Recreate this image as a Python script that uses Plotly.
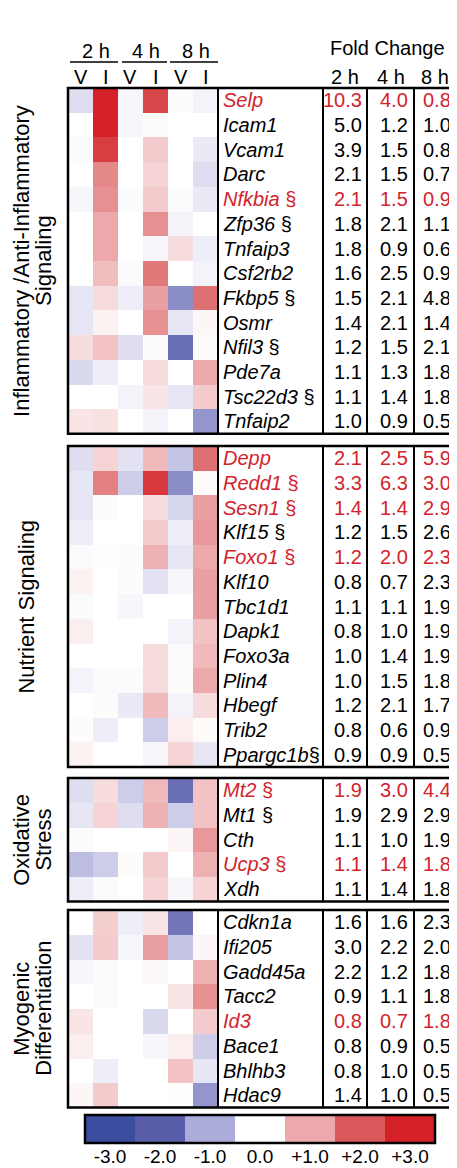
import plotly.graph_objects as go

# The page body has an 8 px margin, so the figure is drawn 8 px in from the
# window's top-left corner; the layout below is expressed in window pixels.
OFF = 8
W, H = 457 - OFF, 1168 - OFF

# ---------------- data ----------------
conditions = ["2h V", "2h I", "4h V", "4h I", "8h V", "8h I"]
time_labels = ["2 h", "4 h", "8 h"]
vi_labels = ["V", "I", "V", "I", "V", "I"]
panel_titles = [["Inflammatory /Anti-Inflammatory", "Signaling"],
                ["Nutrient Signaling"],
                ["Oxidative", "Stress"],
                ["Myogenic", "Differentiation"]]

genes1 = ["Selp", "Icam1", "Vcam1", "Darc", "Nfkbia §", "Zfp36 §", "Tnfaip3", "Csf2rb2",
          "Fkbp5 §", "Osmr", "Nfil3 §", "Pde7a", "Tsc22d3 §", "Tnfaip2"]
red1 = [1, 0, 0, 0, 1, 0, 0, 0, 0, 0, 0, 0, 0, 0]
fc1_2h = [10.3, 5.0, 3.9, 2.1, 2.1, 1.8, 1.8, 1.6, 1.5, 1.4, 1.2, 1.1, 1.1, 1.0]
fc1_4h = [4.0, 1.2, 1.5, 1.5, 1.5, 2.1, 0.9, 2.5, 2.1, 2.1, 1.5, 1.3, 1.4, 0.9]
fc1_8h = [0.8, 1.0, 0.8, 0.7, 0.9, 1.1, 0.6, 0.9, 4.8, 1.4, 2.1, 1.8, 1.8, 0.5]
heat1 = [
    [-0.4, 3.0, -0.1, 2.3, 0.05, -0.15],
    [0.0, 3.0, -0.1, 0.05, 0.0, 0.0],
    [-0.05, 2.5, 0.0, 0.6, 0.0, -0.25],
    [0.0, 1.4, 0.0, 0.5, 0.0, -0.4],
    [-0.1, 1.3, -0.05, 0.6, -0.05, -0.25],
    [0.0, 1.0, 0.0, 1.3, -0.15, 0.0],
    [0.0, 1.0, 0.0, -0.1, 0.4, -0.2],
    [0.0, 0.75, -0.05, 1.6, 0.0, -0.15],
    [-0.3, 0.4, -0.2, 1.1, -1.4, 1.7],
    [-0.3, 0.15, 0.0, 1.3, -0.3, 0.1],
    [0.4, 0.7, -0.4, 0.05, -1.8, -0.05],
    [-0.45, -0.2, 0.0, 0.4, 0.0, 1.0],
    [0.0, 0.0, -0.15, 0.3, -0.3, 0.6],
    [0.3, 0.35, 0.0, -0.15, 0.0, -1.3],
]

genes2 = ["Depp", "Redd1 §", "Sesn1 §", "Klf15 §", "Foxo1 §", "Klf10", "Tbc1d1", "Dapk1",
          "Foxo3a", "Plin4", "Hbegf", "Trib2", "Ppargc1b§"]
red2 = [1, 1, 1, 0, 1, 0, 0, 0, 0, 0, 0, 0, 0]
fc2_2h = [2.1, 3.3, 1.4, 1.2, 1.2, 0.8, 1.1, 0.8, 1.0, 1.0, 1.2, 0.8, 0.9]
fc2_4h = [2.5, 6.3, 1.4, 1.5, 2.0, 0.7, 1.1, 1.0, 1.4, 1.5, 2.1, 0.6, 0.9]
fc2_8h = [5.9, 3.0, 2.9, 2.6, 2.3, 2.3, 1.9, 1.9, 1.9, 1.8, 1.7, 0.9, 0.5]
heat2 = [
    [-0.4, 0.5, -0.35, 0.8, -0.7, 1.7],
    [-0.3, 1.5, -0.6, 2.6, -1.4, 0.05],
    [-0.3, 0.05, 0.0, 0.4, -0.5, 1.1],
    [-0.2, 0.0, 0.0, 0.6, -0.2, 1.2],
    [-0.05, 0.03, -0.05, 0.9, -0.3, 1.0],
    [0.15, 0.0, 0.05, -0.35, -0.1, 1.1],
    [-0.05, 0.0, -0.1, 0.0, 0.0, 1.1],
    [0.2, 0.0, 0.0, 0.0, -0.15, 0.7],
    [0.0, 0.0, 0.0, 0.4, -0.05, 0.8],
    [-0.15, -0.05, -0.05, 0.4, 0.05, 1.0],
    [0.0, 0.05, -0.25, 0.8, -0.15, 0.4],
    [0.05, -0.2, 0.0, -0.6, 0.2, 0.05],
    [0.15, 0.0, 0.0, -0.1, 0.5, -0.3],
]

genes3 = ["Mt2 §", "Mt1 §", "Cth", "Ucp3 §", "Xdh"]
red3 = [1, 0, 0, 1, 0]
fc3_2h = [1.9, 1.9, 1.1, 1.1, 1.1]
fc3_4h = [3.0, 2.9, 1.0, 1.4, 1.4]
fc3_8h = [4.4, 2.9, 1.9, 1.8, 1.8]
heat3 = [
    [-0.4, 0.4, -0.6, 0.8, -1.8, 0.7],
    [-0.3, 0.5, -0.4, 0.9, -0.6, 0.7],
    [-0.05, 0.0, 0.0, 0.0, 0.1, 1.2],
    [-0.8, -0.6, 0.05, 0.6, 0.0, 0.9],
    [-0.2, -0.05, 0.0, 0.5, -0.1, 0.5],
]

genes4 = ["Cdkn1a", "Ifi205", "Gadd45a", "Tacc2", "Id3", "Bace1", "Bhlhb3", "Hdac9"]
red4 = [0, 0, 0, 0, 1, 0, 0, 0]
fc4_2h = [1.6, 3.0, 2.2, 0.9, 0.8, 0.8, 0.8, 1.4]
fc4_4h = [1.6, 2.2, 1.2, 1.1, 0.7, 0.9, 1.0, 1.0]
fc4_8h = [2.3, 2.0, 1.8, 1.8, 1.8, 0.5, 0.5, 0.5]
heat4 = [
    [0.0, 0.55, -0.2, 0.3, -1.7, 0.0],
    [-0.35, 0.6, -0.1, 1.1, -0.7, 0.1],
    [-0.1, -0.05, 0.0, 0.08, 0.0, 0.9],
    [0.0, -0.05, 0.0, 0.0, 0.3, 1.3],
    [0.3, 0.0, 0.0, -0.45, 0.0, 0.6],
    [0.2, 0.0, 0.0, -0.1, 0.2, -0.6],
    [0.0, -0.2, 0.0, 0.0, 0.7, -0.3],
    [0.1, 0.6, 0.0, 0.0, -0.03, -1.3],
]

scale_values = [-3, -2, -1, 0, 1, 2, 3]
scale_labels = ["-3.0", "-2.0", "-1.0", "0.0", "+1.0", "+2.0", "+3.0"]

panels = [
    (genes1, red1, fc1_2h, fc1_4h, fc1_8h, heat1),
    (genes2, red2, fc2_2h, fc2_4h, fc2_8h, heat2),
    (genes3, red3, fc3_2h, fc3_4h, fc3_8h, heat3),
    (genes4, red4, fc4_2h, fc4_4h, fc4_8h, heat4),
]

# ---------------- styling / layout ----------------
colorscale = [
    [0.0, "rgb(60,78,160)"],
    [1 / 6, "rgb(90,94,170)"],
    [2 / 6, "rgb(172,172,218)"],
    [3 / 6, "rgb(255,255,255)"],
    [4 / 6, "rgb(236,168,170)"],
    [5 / 6, "rgb(218,88,90)"],
    [1.0, "rgb(212,34,40)"],
]
RED = "#d2232d"
FONT = "Liberation Sans, Arial, Helvetica, sans-serif"
ROW_H = 24.7
panel_tops = [88, 446, 778, 910]
X_HEAT0, X_HEAT1 = 68, 218
X_RIGHT = 455
V_LINES = [218, 323, 367, 414]
NUM_X = [364, 410, 453]


def px(x):
    return (x - OFF) / W


def py(y):
    return 1 - (y - OFF) / H


def label(x, y, text, size=20, color="black", **kw):
    d = dict(x=px(x), y=py(y), xref="paper", yref="paper", text=text, showarrow=False,
             xanchor="center", yanchor="middle",
             font=dict(size=size, color=color, family=FONT))
    d.update(kw)
    return d


fig = go.Figure()
annotations = []
shapes = []
layout_axes = {}

for k, (genes, reds, f2, f4, f8, heat) in enumerate(panels, start=1):
    n = len(genes)
    top = panel_tops[k - 1]
    bot = top + n * ROW_H
    xa, ya = ("x" if k == 1 else f"x{k}"), ("y" if k == 1 else f"y{k}")
    fig.add_trace(go.Heatmap(
        z=heat, x=list(range(6)), y=list(range(n)),
        colorscale=colorscale, zmin=-3, zmax=3, showscale=False,
        xaxis=xa, yaxis=ya, hoverinfo="skip",
    ))
    layout_axes["xaxis" if k == 1 else f"xaxis{k}"] = dict(
        domain=[px(X_HEAT0), px(X_HEAT1)], range=[-0.5, 5.5], visible=False,
        anchor=ya, fixedrange=True)
    layout_axes["yaxis" if k == 1 else f"yaxis{k}"] = dict(
        domain=[py(bot), py(top)], range=[n - 0.5, -0.5], visible=False,
        anchor=xa, fixedrange=True)

    for i, g in enumerate(genes):
        col = RED if reds[i] else "black"
        if "§" in g:
            name = g.replace("§", "").rstrip()
            sep = " " if g.endswith(" §") else ""
            txt = f"<i>{name}</i>{sep}§"
        else:
            txt = f"<i>{g}</i>"
        annotations.append(dict(
            x=px(221), y=i, xref="paper", yref=ya, text=txt, showarrow=False,
            xanchor="left", yanchor="middle", font=dict(size=20, color=col, family=FONT)))
        for j, vals in enumerate([f2, f4, f8]):
            annotations.append(dict(
                x=px(NUM_X[j]), y=i, xref="paper", yref=ya, text=f"{vals[i]:.1f}",
                showarrow=False, xanchor="right", yanchor="middle",
                font=dict(size=20, color=col, family=FONT)))

    # borders
    shapes.append(dict(type="rect", xref="paper", yref="paper",
                       x0=px(X_HEAT0), x1=px(X_RIGHT), y0=py(bot), y1=py(top),
                       line=dict(color="black", width=2.5)))
    for vx in V_LINES:
        shapes.append(dict(type="line", xref="paper", yref="paper",
                           x0=px(vx), x1=px(vx), y0=py(bot), y1=py(top),
                           line=dict(color="black", width=2)))

    # left group labels
    titles = panel_titles[k - 1]
    cy = (top + bot) / 2
    xs = [27] if len(titles) == 1 else [22, 44]
    for t, xx in zip(titles, xs):
        annotations.append(label(xx, cy, t, size=22, textangle=-90))

# header texts
for j, t in enumerate(time_labels):
    annotations.append(label(X_HEAT0 + 28 + 50 * j, 51, t))
for j, t in enumerate(vi_labels):
    annotations.append(label(X_HEAT0 + 12.5 + 25 * j, 77, t))
annotations.append(label(387, 48, "Fold Change"))
for j, t in enumerate(time_labels):
    annotations.append(label([345, 391, 435][j], 77, t))
for x0, x1 in [(70, 118), (122, 167), (170, 218)]:
    shapes.append(dict(type="line", xref="paper", yref="paper", x0=px(x0), x1=px(x1),
                       y0=py(62), y1=py(62), line=dict(color="black", width=1.5)))

# colour scale bar
CB_X0, CB_X1, CB_Y0, CB_Y1 = 85, 435, 1115, 1143
fig.add_trace(go.Heatmap(
    z=[scale_values], x=list(range(7)), y=[0], colorscale=colorscale, zmin=-3, zmax=3,
    showscale=False, xaxis="x5", yaxis="y5", hoverinfo="skip"))
layout_axes["xaxis5"] = dict(domain=[px(CB_X0), px(CB_X1)], range=[-0.5, 6.5], anchor="y5",
                             tickmode="array", tickvals=list(range(7)), ticktext=scale_labels,
                             showgrid=False, zeroline=False, showline=False, ticks="",
                             tickfont=dict(size=19, family=FONT, color="black"), fixedrange=True)
layout_axes["yaxis5"] = dict(domain=[py(CB_Y1), py(CB_Y0)], range=[-0.5, 0.5], visible=False,
                             anchor="x5", fixedrange=True)
shapes.append(dict(type="rect", xref="paper", yref="paper", x0=px(CB_X0), x1=px(CB_X1),
                   y0=py(CB_Y1), y1=py(CB_Y0), line=dict(color="black", width=2.5)))

fig.update_layout(
    width=W, height=H, margin=dict(l=0, r=0, t=0, b=0),
    paper_bgcolor="white", plot_bgcolor="white", showlegend=False,
    annotations=annotations, shapes=shapes, **layout_axes,
)

fig.write_html("out.html")
